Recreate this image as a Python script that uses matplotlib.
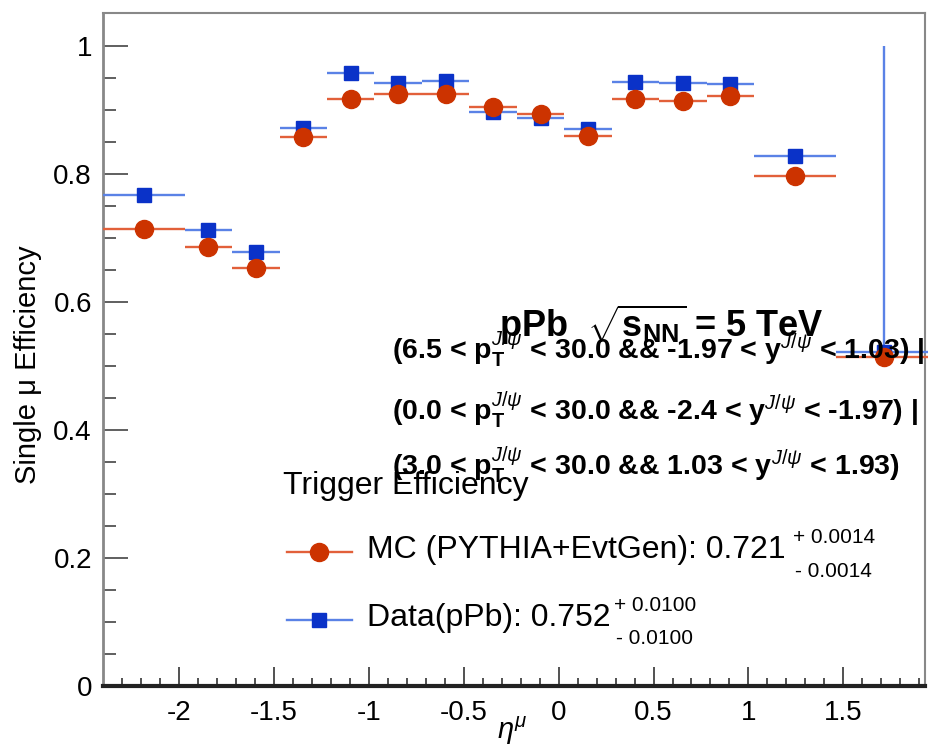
import matplotlib
matplotlib.use("Agg")
import matplotlib.pyplot as plt
from matplotlib.lines import Line2D
import numpy as np

plt.rcParams['font.family'] = ['Liberation Sans', 'DejaVu Sans']
plt.rcParams['mathtext.fontset'] = 'custom'
plt.rcParams['mathtext.rm'] = 'Liberation Sans'
plt.rcParams['mathtext.it'] = 'Liberation Sans:italic'
plt.rcParams['mathtext.bf'] = 'Liberation Sans:bold'
plt.rcParams['axes.unicode_minus'] = False

# eta bin edges
eta_edges = [-2.4, -1.97, -1.72, -1.47, -1.22, -0.97, -0.72, -0.47, -0.22,
             0.03, 0.28, 0.53, 0.78, 1.03, 1.46, 1.97]

# efficiency per bin
eff_mc = [0.714, 0.686, 0.653, 0.858, 0.917, 0.925, 0.925, 0.905, 0.894,
          0.859, 0.917, 0.914, 0.923, 0.797, 0.515]
eff_data = [0.767, 0.7125, 0.678, 0.872, 0.958, 0.942, 0.945, 0.898, 0.8875,
            0.870, 0.944, 0.942, 0.941, 0.828, 0.522]

# errors (low, high)
err_mc_lo = [0.002] * 15
err_mc_hi = [0.002] * 15
err_data_lo = [0.003] * 14 + [0.005]
err_data_hi = [0.003] * 14 + [0.478]

edges = np.array(eta_edges)
centers = (edges[:-1] + edges[1:]) / 2
halfw = (edges[1:] - edges[:-1]) / 2

red_m = '#cc3300'
red_l = '#e2603a'
blue_m = '#0a32c8'
blue_l = '#5a82e6'

W, H = 929, 746
fig = plt.figure(figsize=(W / 100, H / 100), dpi=100)
ax = fig.add_axes([103 / W, 60 / H, 822 / W, 673 / H])


def px(x, y):
    return x / W, 1 - y / H


# data
d = ax.errorbar(centers, eff_data, xerr=halfw, yerr=[err_data_lo, err_data_hi],
                fmt='s', color=blue_m, ecolor=blue_l, elinewidth=1.7,
                markersize=10, capsize=0, zorder=3)
m = ax.errorbar(centers, eff_mc, xerr=halfw, yerr=[err_mc_lo, err_mc_hi],
                fmt='o', color=red_m, ecolor=red_l, elinewidth=1.7,
                markersize=13, capsize=0, zorder=4)
for cont in (d, m):
    for art in cont.get_children():
        art.set_clip_on(False)

ax.set_xlim(-2.4, 1.93)
ax.set_ylim(0, 1.052)
ax.set_xticks([-2, -1.5, -1, -0.5, 0, 0.5, 1, 1.5])
ax.set_xticklabels(['-2', '-1.5', '-1', '-0.5', '0', '0.5', '1', '1.5'])
ax.set_xticks(np.arange(-2.3, 1.95, 0.1), minor=True)
ax.set_yticks([0, 0.2, 0.4, 0.6, 0.8, 1])
ax.set_yticklabels(['0', '0.2', '0.4', '0.6', '0.8', '1'])
ax.set_yticks(np.arange(0.05, 1.05, 0.05), minor=True)

ax.tick_params(axis='x', which='major', direction='in', length=14, width=1.2,
               labelsize=20, pad=10, color='#333333')
ax.tick_params(axis='x', which='minor', direction='in', length=6, width=1.2,
               color='#333333')
ax.tick_params(axis='y', which='major', direction='in', length=18, width=1.2,
               labelsize=20, pad=8, color='#444444')
ax.tick_params(axis='y', which='minor', direction='in', length=9, width=1.2,
               color='#444444')

ax.spines['bottom'].set_linewidth(3)
ax.spines['bottom'].set_color('#222222')
ax.spines['left'].set_linewidth(2)
ax.spines['left'].set_color('#888888')
ax.spines['top'].set_linewidth(1.5)
ax.spines['top'].set_color('#888888')
ax.spines['right'].set_linewidth(1.5)
ax.spines['right'].set_color('#888888')

# axis titles
fig.text(*px(28, 365), 'Single μ Efficiency', rotation=90, fontsize=21,
         ha='center', va='center')
fig.text(*px(512, 731), r'$\eta^{\mu}$', fontsize=21, ha='center', va='center')

# physics labels
fig.text(*px(499, 337), r'pPb  $\sqrt{\mathbf{s}_{\mathbf{NN}}}$ = 5 TeV',
         fontsize=26, fontweight='bold', va='baseline', zorder=10)
lines = [
    r'(6.5 < $\mathbf{p}_{\mathbf{T}}^{J/\psi}$ < 30.0 && -1.97 < $\mathbf{y}^{J/\psi}$ < 1.03) |',
    r'(0.0 < $\mathbf{p}_{\mathbf{T}}^{J/\psi}$ < 30.0 && -2.4 < $\mathbf{y}^{J/\psi}$ < -1.97) |',
    r'(3.0 < $\mathbf{p}_{\mathbf{T}}^{J/\psi}$ < 30.0 && 1.03 < $\mathbf{y}^{J/\psi}$ < 1.93)',
]
for txt, yb in zip(lines, [360, 420, 476]):
    fig.text(*px(392, yb), txt, fontsize=20.5, fontweight='bold', va='baseline',
             zorder=10)

# legend
fig.text(*px(283, 494), 'Trigger Efficiency', fontsize=23, va='baseline')
fig.add_artist(Line2D([287 / W, 352 / W], [1 - 552 / H, 1 - 552 / H],
                      color=red_l, lw=1.7))
fig.add_artist(Line2D([319 / W], [1 - 552 / H], marker='o', color=red_m,
                      markersize=13))
fig.add_artist(Line2D([287 / W, 352 / W], [1 - 620 / H, 1 - 620 / H],
                      color=blue_l, lw=1.7))
fig.add_artist(Line2D([319 / W], [1 - 620 / H], marker='s', color=blue_m,
                      markersize=10))
fig.text(*px(367, 558), 'MC (PYTHIA+EvtGen): 0.721', fontsize=23, va='baseline')
fig.text(*px(793, 543), '+ 0.0014', fontsize=15, va='baseline')
fig.text(*px(795, 577), '- 0.0014', fontsize=15, va='baseline')
fig.text(*px(367, 626), 'Data(pPb): 0.752', fontsize=23, va='baseline')
fig.text(*px(614, 611), '+ 0.0100', fontsize=15, va='baseline')
fig.text(*px(616, 644), '- 0.0100', fontsize=15, va='baseline')

fig.savefig('out.png', dpi=100)
